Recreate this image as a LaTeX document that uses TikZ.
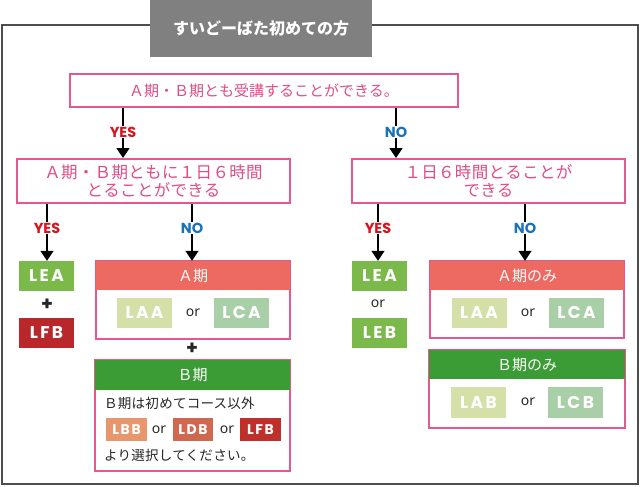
\documentclass[tikz,border=0pt]{standalone}
\usepackage{fontspec}
\usetikzlibrary{arrows.meta}
\newfontfamily\jp{Noto Sans CJK JP}
\newfontfamily\pop{Poppins}
\newfontfamily\nsans{Noto Sans}
\definecolor{framec}{HTML}{4D4D4D}
\definecolor{titlec}{HTML}{808080}
\definecolor{pinkc}{HTML}{E5588E}
\definecolor{pinktext}{HTML}{E04C86}
\definecolor{ahead}{HTML}{EC6A62}
\definecolor{bhead}{HTML}{3B9B34}
\definecolor{leac}{HTML}{7AB94A}
\definecolor{lfbc}{HTML}{B8282A}
\definecolor{laac}{HTML}{D5DFA8}
\definecolor{lcac}{HTML}{A9CFA8}
\definecolor{lbbc}{HTML}{E8966C}
\definecolor{ldbc}{HTML}{D0674F}
\definecolor{lfbtwo}{HTML}{C0302B}
\definecolor{yesc}{HTML}{D7141E}
\definecolor{noc}{HTML}{1A73B8}
\tikzset{
  qbox/.style={draw=pinkc, line width=2pt, fill=white, inner sep=0pt, align=center,
     font=\jp\fontsize{15}{17}\selectfont, text=pinktext},
  qboxb/.style={qbox, font=\jp\fontsize{16.5}{17.5}\selectfont\addfontfeature{LetterSpace=2}},
  lbl/.style={inner sep=0pt, font=\pop\bfseries\fontsize{17}{17}\selectfont\addfontfeature{LetterSpace=14}, text=white},
  sbox/.style={lbl, minimum width=55pt, minimum height=30pt},
  tbox/.style={inner sep=0pt, font=\pop\bfseries\fontsize{14}{14}\selectfont\addfontfeature{LetterSpace=12}, text=white, minimum height=23pt},
  yeslbl/.style={inner sep=1pt, font=\pop\bfseries\fontsize{14.5}{14}\selectfont, text=yesc},
  nolbl/.style={inner sep=1pt, font=\pop\bfseries\fontsize{14.5}{14}\selectfont, text=noc},
  orlbl/.style={inner sep=0pt, font=\nsans\fontsize{14}{14}\selectfont, text=black!85},
  pluslbl/.style={inner sep=0pt, font=\pop\bfseries\fontsize{19}{19}\selectfont, text=black!85},
  head/.style={inner sep=0pt, font=\jp\fontsize{15}{15}\selectfont, text=white},
  body/.style={draw=pinkc, line width=2pt, fill=white},
  arr/.style={line width=1.6pt, -{Triangle[width=13pt,length=10pt]}},
  ln/.style={line width=1.6pt},
  jtext/.style={inner sep=0pt, anchor=west, font=\jp\fontsize{13.5}{13.5}\selectfont\addfontfeature{LetterSpace=2}, text=black!85}
}
\begin{document}
\begin{tikzpicture}[x=1pt,y=-1pt]
\useasboundingbox (0,0) rectangle (640,487);
\fill[white] (0,0) rectangle (640,487);
% frame
\draw[framec, line width=1.6pt] (2,25) rectangle (638,484);
% title
\node[fill=titlec, minimum width=222pt, minimum height=57pt, inner sep=0pt,
  font=\jp\bfseries\fontsize{16}{16}\selectfont, text=white] (title) at (261,28.5) {すいどーばた初めての方};
% level 1
\node[qbox, minimum width=388pt, minimum height=33pt] (q1) at (264,90.5) {Ａ期・Ｂ期とも受講することができる。};
% level 2
\node[qboxb, minimum width=273pt, minimum height=44pt] (q2l) at (153.5,181) {Ａ期・Ｂ期ともに１日６時間\\とることができる};
\node[qboxb, minimum width=273pt, minimum height=44pt] (q2r) at (488.5,181) {１日６時間とることが\\できる};
% yes/no labels level 1
\node[yeslbl] (yes1) at (123,132) {YES};
\node[nolbl] (no1) at (396,132) {NO};
\draw[ln] (q1.south -| yes1) -- (yes1.north);
\draw[arr] (yes1.south) -- (q2l.north -| yes1);
\draw[ln] (q1.south -| no1) -- (no1.north);
\draw[arr] (no1.south) -- (q2r.north -| no1);
% labels level 2
\node[yeslbl] (yes2) at (47,228) {YES};
\node[nolbl] (no2) at (192,228) {NO};
\node[yeslbl] (yes3) at (378,228) {YES};
\node[nolbl] (no3) at (525,228) {NO};
% left-left
\node[sbox, fill=leac] (lea1) at (46.5,276) {LEA};
\node[pluslbl] (plus1) at (47,305) {+};
\node[sbox, fill=lfbc] (lfb1) at (46.5,333) {LFB};
% A period box
\node[body, minimum width=194pt, minimum height=78pt, inner sep=0pt] (abody) at (193,300) {};
\node[head, fill=ahead, minimum width=194pt, minimum height=29pt] (ahd) at (193,275.5) {Ａ期};
\node[sbox, fill=laac] (laa1) at (144.5,313) {LAA};
\node[orlbl] (or1) at (193,313) {or};
\node[sbox, fill=lcac] (lca1) at (241.5,313) {LCA};
\node[pluslbl] (plus2) at (192,349) {+};
% B period box
\node[body, minimum width=195pt, minimum height=111pt, inner sep=0pt] (bbody) at (192.5,415.5) {};
\node[head, fill=bhead, minimum width=195pt, minimum height=30pt] (bhd) at (192.5,375) {Ｂ期};
\node[jtext] (bt1) at (104,403) {Ｂ期は初めてコース以外};
\node[tbox, fill=lbbc, minimum width=41pt] (lbb) at (126.5,429.5) {LBB};
\node[orlbl] (or2) at (159,430) {or};
\node[tbox, fill=ldbc, minimum width=40pt] (ldb) at (193,429.5) {LDB};
\node[orlbl] (or3) at (227,430) {or};
\node[tbox, fill=lfbtwo, minimum width=41pt] (lfb2) at (260.5,429.5) {LFB};
\node[jtext] (bt2) at (104,455) {より選択してください。};
% right-left
\node[sbox, fill=leac] (lea2) at (379.5,276) {LEA};
\node[orlbl] (or4) at (378,304) {or};
\node[sbox, fill=leac] (leb) at (379.5,333) {LEB};
% A only
\node[body, minimum width=194pt, minimum height=77pt, inner sep=0pt] (aobody) at (527,299.5) {};
\node[head, fill=ahead, minimum width=194pt, minimum height=29pt] (aohd) at (527,275.5) {Ａ期のみ};
\node[sbox, fill=laac] (laa2) at (479,313) {LAA};
\node[orlbl] (or5) at (528,313) {or};
\node[sbox, fill=lcac] (lca2) at (576.5,313) {LCA};
% B only
\node[body, minimum width=196pt, minimum height=78pt, inner sep=0pt] (bobody) at (527,389) {};
\node[head, fill=bhead, minimum width=196pt, minimum height=29pt] (bohd) at (527,364.5) {Ｂ期のみ};
\node[sbox, fill=laac, minimum height=31pt] (lab) at (478.5,402.5) {LAB};
\node[orlbl] (or6) at (528,402) {or};
\node[sbox, fill=lcac, minimum height=31pt] (lcb) at (575.5,402.5) {LCB};
% level 2 arrows
\draw[ln] (q2l.south -| yes2) -- (yes2.north);
\draw[arr] (yes2.south) -- (lea1.north -| yes2);
\draw[ln] (q2l.south -| no2) -- (no2.north);
\draw[arr] (no2.south) -- (ahd.north -| no2);
\draw[ln] (q2r.south -| yes3) -- (yes3.north);
\draw[arr] (yes3.south) -- (lea2.north -| yes3);
\draw[ln] (q2r.south -| no3) -- (no3.north);
\draw[arr] (no3.south) -- (aohd.north -| no3);
\end{tikzpicture}
\end{document}
